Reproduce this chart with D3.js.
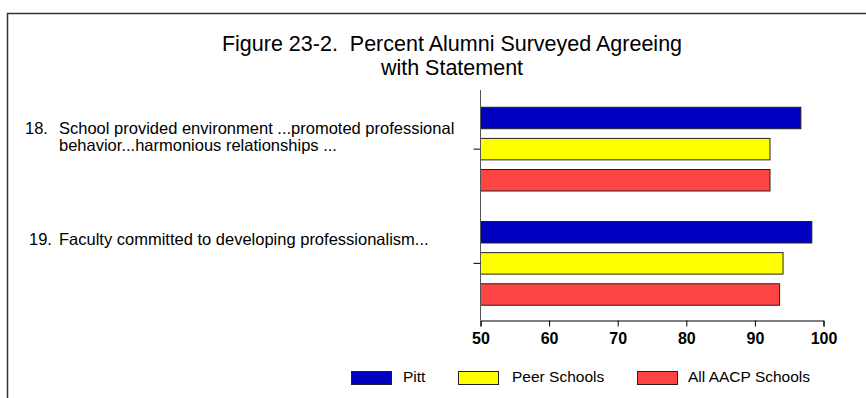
<!DOCTYPE html>
<html>
<head>
<meta charset="utf-8">
<script src="https://cdn.jsdelivr.net/npm/d3@7"></script>
<style>
  html, body { margin: 0; padding: 0; background: #fff; }
  svg { display: block; font-family: "Liberation Sans", Arial, sans-serif; }
  text { white-space: pre; }
</style>
</head>
<body>
<svg id="chart" width="866" height="398"></svg>
<script>
// Survey items (number + wrapped statement lines)
const categories = ["18", "19"];
const categoryLines = [
  ["School provided environment ...promoted professional", "behavior...harmonious relationships ..."],
  ["Faculty committed to developing professionalism..."]
];
const seriesNames = ["Pitt", "Peer Schools", "All AACP Schools"];
const pittValues = [96.7, 98.3];
const peerValues = [92.2, 94.1];
const aacpValues = [92.2, 93.6];
const xTicks = [50, 60, 70, 80, 90, 100];
const titleLines = ["Figure 23-2.  Percent Alumni Surveyed Agreeing", "with Statement"];

const seriesValues = [pittValues, peerValues, aacpValues];
const colors = ["#0000C0", "#FFFF00", "#FF4444"];

const svg = d3.select("#chart");

// outer frame (runs off the right and bottom edges)
svg.append("rect")
  .attr("x", 7.5).attr("y", 13.5)
  .attr("width", 1000).attr("height", 1000)
  .attr("fill", "none").attr("stroke", "#333").attr("stroke-width", 1.5);

// title
svg.append("text")
  .attr("text-anchor", "middle")
  .attr("font-size", 21.5)
  .attr("fill", "#000")
  .selectAll("tspan").data(titleLines).join("tspan")
  .attr("x", 452)
  .attr("y", (d, i) => 51 + i * 24)
  .text(d => d);

const plot = { left: 480.5, right: 823.5, top: 92, bottom: 320.5 };

const x = d3.scaleLinear().domain([50, 100]).range([plot.left, plot.right]);
const y = d3.scaleBand().domain(categories).range([plot.top, plot.bottom]).paddingInner(0).paddingOuter(0);
const ySeries = d3.scaleBand().domain(d3.range(seriesNames.length))
  .range([0, y.bandwidth()]).paddingInner(0.31).paddingOuter(0.49);

// bars
const groups = svg.append("g").selectAll("g").data(categories).join("g")
  .attr("transform", d => `translate(0,${y(d)})`);

groups.selectAll("rect")
  .data((c, ci) => seriesValues.map((vals, si) => ({ si, v: vals[ci] })))
  .join("rect")
  .attr("x", x(50))
  .attr("y", d => ySeries(d.si))
  .attr("width", d => x(d.v) - x(50))
  .attr("height", ySeries.bandwidth())
  .attr("fill", d => colors[d.si])
  .attr("stroke", "#222")
  .attr("stroke-width", 1);

// x axis
const xAxis = d3.axisBottom(x).tickValues(xTicks).tickSize(6).tickPadding(6).tickFormat(d3.format("d"));
const gx = svg.append("g").attr("transform", `translate(0,${plot.bottom})`).call(xAxis);
gx.select(".domain").attr("stroke", "#000");
gx.selectAll(".tick line").attr("stroke", "#000");
gx.selectAll(".tick text")
  .attr("font-family", "'Liberation Sans', Arial, sans-serif")
  .attr("font-size", 16).attr("font-weight", "bold").attr("fill", "#000");

// y axis (ticks at category centres, no labels)
const yAxis = d3.axisLeft(y).tickSize(7).tickFormat("");
const gy = svg.append("g").attr("transform", `translate(${plot.left},0)`).call(yAxis);
gy.select(".domain").attr("stroke", "#555").attr("d", `M0,${plot.top - 2}V${plot.bottom}`);
gy.selectAll(".tick line").attr("stroke", "#000");

// category labels on the left
const labelLayout = [{ numX: 25, firstBaseline: -15 }, { numX: 29, firstBaseline: -18 }];
const labels = svg.append("g").attr("font-size", 16.5).attr("fill", "#000");
categories.forEach((c, ci) => {
  const cy = y(c) + y.bandwidth() / 2 + labelLayout[ci].firstBaseline;
  labels.append("text").attr("x", labelLayout[ci].numX).attr("y", cy).text(c + ".");
  labels.append("text").selectAll("tspan").data(categoryLines[ci]).join("tspan")
    .attr("x", 59).attr("y", (d, i) => cy + i * 16.5).text(d => d);
});

// legend
const legendItems = [
  { swatchX: 351, textX: 403 },
  { swatchX: 458, textX: 512 },
  { swatchX: 637, textX: 688 }
];
const legend = svg.append("g");
seriesNames.forEach((name, i) => {
  legend.append("rect")
    .attr("x", legendItems[i].swatchX + 0.5).attr("y", 371.5)
    .attr("width", 40).attr("height", 13)
    .attr("fill", colors[i]).attr("stroke", "#222").attr("stroke-width", 1);
  legend.append("text")
    .attr("x", legendItems[i].textX).attr("y", 381.5)
    .attr("font-size", 15.5).attr("fill", "#000")
    .text(name);
});
</script>
</body>
</html>
